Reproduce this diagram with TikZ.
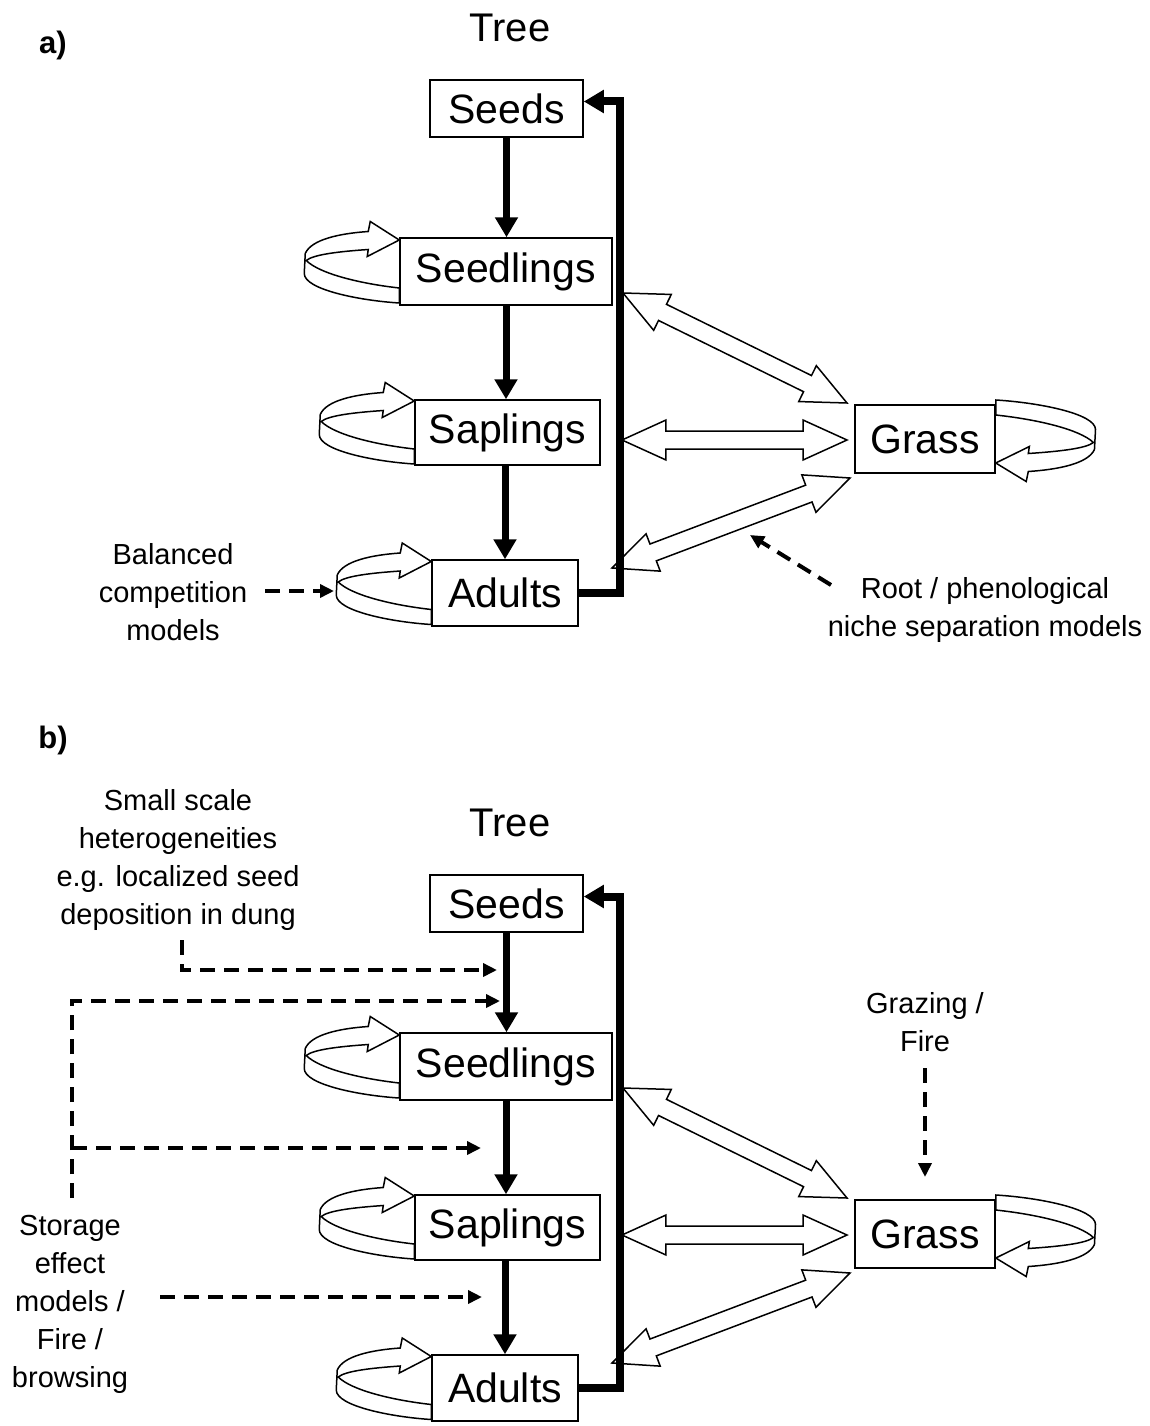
\documentclass[tikz,border=0pt]{standalone}
\usepackage{fontspec}
\setmainfont{Liberation Sans}
\usetikzlibrary{arrows.meta,calc}

\tikzset{
  box/.style={draw, line width=1.5pt, fill=white, inner sep=0pt, font=\fontsize{41}{46}\selectfont},
  lbl/.style={font=\fontsize{29}{38}\selectfont, align=center, inner sep=0pt},
  titlelbl/.style={font=\fontsize{40}{46}\selectfont, inner sep=0pt},
  panellbl/.style={font=\fontsize{31}{34}\selectfont\bfseries, inner sep=0pt},
  thickarrow/.style={line width=7pt, -{Triangle[width=22pt,length=20pt]}},
  feedback/.style={line width=8pt, line join=miter, -{Triangle[width=22pt,length=20pt]}},
  dashedarrow/.style={line width=4pt, dash pattern=on 15pt off 9pt, -{Triangle[width=13pt,length=14pt]}},
  hollow/.style={draw, line width=1.5pt, fill=white, line join=miter},
  loopstyle/.style={draw, line width=1.5pt, fill=white, line join=miter},
  selfloop/.pic={
    \path[loopstyle] (0,31.5) .. controls (-40,29) and (-95,18) .. (-95,2)
      -- (-94,-18) .. controls (-88,-32) and (-60,-38) .. (-31,-40)
      -- (-29,-50) -- (0,-31.5) -- (-32,-15) -- (-31,-22)
      .. controls (-60,-20) and (-86,-17) .. (-93,-11)
      .. controls (-80,2) and (-40,12) .. (0,16.5) -- cycle;
  }
}

\newcommand\blockarrow[2]{%
  \path[hollow] (#1) -- ($(#1)!48.3pt!24.44:(#2)$) -- ($(#1)!44.9pt!11.56:(#2)$)
    -- ($(#2)!44.9pt!-11.56:(#1)$) -- ($(#2)!48.3pt!-24.44:(#1)$) -- (#2)
    -- ($(#2)!48.3pt!24.44:(#1)$) -- ($(#2)!44.9pt!11.56:(#1)$)
    -- ($(#1)!44.9pt!-11.56:(#2)$) -- ($(#1)!48.3pt!-24.44:(#2)$) -- cycle;}

\newcommand\treepanel[2]{%
  \node[titlelbl] (#1tree) at (510,28+#2) {Tree};
  % hollow competition arrows
  \coordinate (#1hAa) at (623,293+#2);
  \coordinate (#1hAb) at (847,403+#2);
  \coordinate (#1hBa) at (622,440+#2);
  \coordinate (#1hBb) at (847,440+#2);
  \coordinate (#1hCa) at (612,568+#2);
  \coordinate (#1hCb) at (850,478+#2);
  \blockarrow{#1hAa}{#1hAb}
  \blockarrow{#1hBa}{#1hBb}
  \blockarrow{#1hCa}{#1hCb}
  % boxes
  \node[box, minimum width=153pt, minimum height=57pt] (#1seeds) at (506.5,108.5+#2) {Seeds};
  \node[box, minimum width=212pt, minimum height=67pt] (#1seedlings) at (506,271.5+#2) {Seedlings};
  \node[box, minimum width=185pt, minimum height=65pt] (#1saplings) at (507.5,432.5+#2) {Saplings};
  \node[box, minimum width=146pt, minimum height=66pt] (#1adults) at (505,593+#2) {Adults};
  \node[box, minimum width=140pt, minimum height=68pt] (#1grass) at (925,439+#2) {Grass};
  % self loops
  \pic at (#1seedlings.west) {selfloop};
  \pic at (#1saplings.west) {selfloop};
  \pic at (#1adults.west) {selfloop};
  \pic[rotate=180, xscale=1.05] at ($(#1grass.east)+(0,-7.5)$) {selfloop};
  % life-cycle arrows
  \draw[thickarrow] (#1seeds.south) -- (#1seeds.south |- #1seedlings.north);
  \draw[thickarrow] (#1seedlings.south) -- (#1seedlings.south |- #1saplings.north);
  \draw[thickarrow] (#1adults.north |- #1saplings.south) -- (#1adults.north);
  \coordinate (#1fb) at (620,101.5+#2);
  \draw[feedback] (#1adults.east) -| (#1fb) -- (#1fb -| #1seeds.east);
}

\begin{document}
\begin{tikzpicture}[x=1pt,y=-1pt]
\useasboundingbox[fill=white] (0,0) rectangle (1149,1426);

% ---------- panel a ----------
\node[panellbl] (alabel) at (53,45) {a)};
\treepanel{a}{0}
\node[lbl] (abal) at (173,592) {Balanced\\competition\\models};
\coordinate (abalA) at (265,591);
\coordinate (abalB) at (334,591);
\draw[dashedarrow] (abalA) -- (abalB);
\node[lbl] (aroot) at (985,610) {Root / phenological\\niche separation models};
\coordinate (arootA) at (831,585);
\coordinate (arootB) at (750,535);
\draw[dashedarrow] (arootA) -- (arootB);

% ---------- panel b ----------
\node[panellbl] (blabel) at (53,740) {b)};
\treepanel{b}{795}
\node[lbl] (bsmall) at (178,860) {Small scale\\heterogeneities\\e.g. localized seed\\deposition in dung};
\coordinate (bsmA) at (182,940);
\coordinate (bsmB) at (497,970);
\draw[dashedarrow] (bsmA) |- (bsmB);
\node[lbl] (bstore) at (70,1304) {Storage\\effect\\models /\\Fire /\\browsing};
\coordinate (bstA) at (72,1198);
\coordinate (bstB) at (500,1001);
\draw[dashedarrow] (bstA) |- (bstB);
\coordinate (bstC) at (72,1148);
\coordinate (bstD) at (481,1148);
\draw[dashedarrow] (bstC) -- (bstD);
\coordinate (bfiA) at (160,1297);
\coordinate (bfiB) at (482,1297);
\draw[dashedarrow] (bfiA) -- (bfiB);
\node[lbl] (bgraze) at (925,1022) {Grazing /\\Fire};
\coordinate (bgrA) at (925,1068);
\coordinate (bgrB) at (925,1177);
\draw[dashedarrow] (bgrA) -- (bgrB);
\end{tikzpicture}
\end{document}
